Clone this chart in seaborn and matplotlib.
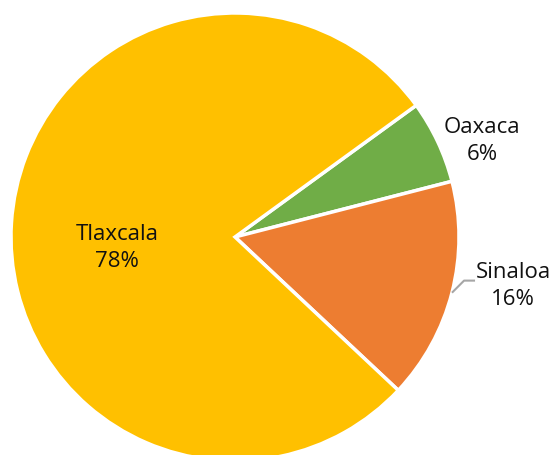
import numpy as np
import matplotlib.pyplot as plt
import seaborn as sns

states = ['Oaxaca', 'Sinaloa', 'Tlaxcala']
shares = [6, 16, 78]
colors = ['#70AD47', '#ED7D31', '#FFC000']

sns.set_theme(style='white')
plt.rcParams['font.family'] = ['Open Sans', 'DejaVu Sans']

fig = plt.figure(figsize=(5.51, 4.55), dpi=100)
ax = fig.add_axes([0, 0, 1, 1])

# pie radius in pixels and centre position, so the chart is cut off at the bottom like the original
R = 224.0
cx, cy = 235.0, 237.0
wedges, _ = ax.pie(shares, colors=colors, startangle=36, counterclock=False,
                   radius=1.0, center=(0, 0),
                   wedgeprops=dict(edgecolor='white', linewidth=2.5))
ax.set_xlim(-cx / R, (551 - cx) / R)
ax.set_ylim(-(455 - cy) / R, cy / R)
ax.set_aspect('equal')
ax.axis('off')

def label(i, x, y):
    ax.text(x, y, '{}\n{}%'.format(states[i], shares[i]), ha='center', va='center',
            fontsize=16, linespacing=1.42, color='#111111')

label(2, -0.527, -0.049)
label(0, 1.103, 0.429)
label(1, 1.241, -0.219)

# leader line for Sinaloa from the middle of its wedge
w = wedges[1]
mid = np.deg2rad((w.theta1 + w.theta2) / 2)
x0, y0 = np.cos(mid), np.sin(mid)
ax.plot([x0, x0 + 0.054, x0 + 0.103], [y0, y0 + 0.054, y0 + 0.054],
        color='#A6A6A6', lw=1.5, solid_capstyle='butt')

fig.savefig('out.png', dpi=100)
